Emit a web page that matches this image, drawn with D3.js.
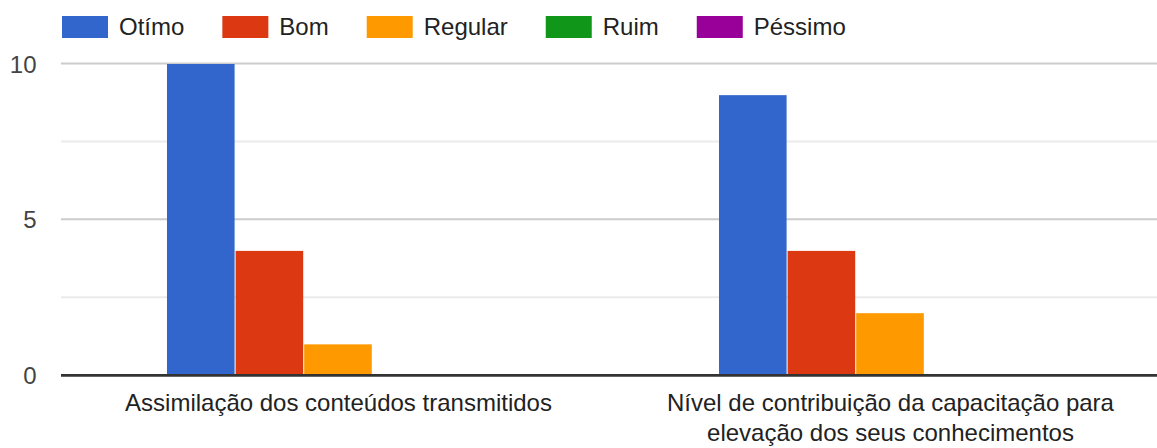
<!DOCTYPE html>
<html>
<head>
<meta charset="utf-8">
<script src="https://cdn.jsdelivr.net/npm/d3@7"></script>
<style>
  html, body { margin: 0; padding: 0; background: #fff; }
  svg { display: block; font-family: Arial, "Liberation Sans", sans-serif; }
</style>
</head>
<body>
<svg id="chart" width="1157" height="448"></svg>
<script>
// ---- Data ----
const categories = [
  "Assimilação dos conteúdos transmitidos",
  "Nível de contribuição da capacitação para elevação dos seus conhecimentos"
];
const seriesNames = ["Otímo", "Bom", "Regular", "Ruim", "Péssimo"];
const seriesColors = ["#3366cc", "#dc3912", "#ff9900", "#109618", "#990099"];
const otimoValues = [10, 9];
const bomValues = [4, 4];
const regularValues = [1, 2];
const ruimValues = [0, 0];
const pessimoValues = [0, 0];
const yTickLabels = [0, 5, 10];
const yMinorTicks = [2.5, 7.5];

const seriesValues = [otimoValues, bomValues, regularValues, ruimValues, pessimoValues];

// ---- Layout ----
const svg = d3.select("#chart");
const plotLeft = 61, plotRight = 1157, bandRight = 1168;

const x0 = d3.scaleBand().domain(categories).range([plotLeft, bandRight])
  .paddingInner(0.3786).paddingOuter(0.192);
const x1 = d3.scaleBand().domain(seriesNames).range([0, x0.bandwidth()]).padding(0);
const y = d3.scaleLinear().domain([0, 10]).range([375, 63.5]);

// gridlines
svg.append("g").selectAll("line.minor").data(yMinorTicks).join("line")
  .attr("x1", plotLeft).attr("x2", plotRight)
  .attr("y1", d => y(d)).attr("y2", d => y(d))
  .attr("stroke", "#ebebeb").attr("stroke-width", 2);
svg.append("g").selectAll("line.major").data(yTickLabels.filter(d => d !== 0)).join("line")
  .attr("x1", plotLeft).attr("x2", plotRight)
  .attr("y1", d => y(d)).attr("y2", d => y(d))
  .attr("stroke", "#cccccc").attr("stroke-width", 2);

// y axis labels
const yAxis = d3.axisLeft(y).tickValues(yTickLabels).tickSize(0).tickPadding(0);
const yg = svg.append("g").attr("transform", "translate(36.5,0)").call(yAxis);
yg.select(".domain").remove();
yg.selectAll("text").attr("font-size", 24).attr("fill", "#444")
  .attr("font-family", "Arial, 'Liberation Sans', sans-serif").attr("dy", "0.36em");

// bars
const rows = categories.map((c, i) => ({ cat: c, vals: seriesNames.map((s, j) => ({ s, j, v: seriesValues[j][i] })) }));
const groups = svg.append("g").selectAll("g").data(rows).join("g")
  .attr("transform", d => `translate(${x0(d.cat)},0)`);
groups.selectAll("rect").data(d => d.vals.filter(e => e.v > 0)).join("rect")
  .attr("x", d => x1(d.s))
  .attr("width", x1.bandwidth() - 1)
  .attr("y", d => y(d.v) + 0.5)
  .attr("height", d => y(0) - y(d.v) - 0.5)
  .attr("fill", d => seriesColors[d.j]);

// baseline
svg.append("line").attr("x1", plotLeft).attr("x2", plotRight)
  .attr("y1", y(0) + 0.4).attr("y2", y(0) + 0.4)
  .attr("stroke", "#333").attr("stroke-width", 2.8);

// x labels (wrapped)
const maxW = 480;
const xl = svg.append("g");
categories.forEach(c => {
  const cx = x0(c) + x0.bandwidth() / 2;
  const t = xl.append("text").attr("x", cx).attr("y", 411)
    .attr("text-anchor", "middle").attr("font-size", 24).attr("fill", "#222");
  const words = c.split(" ");
  let line = [];
  let ts = t.append("tspan").attr("x", cx).attr("dy", 0);
  words.forEach(w => {
    line.push(w);
    ts.text(line.join(" "));
    if (ts.node().getComputedTextLength() > maxW && line.length > 1) {
      line.pop();
      ts.text(line.join(" "));
      line = [w];
      ts = t.append("tspan").attr("x", cx).attr("dy", 30).text(w);
    }
  });
});

// legend
const lg = svg.append("g");
let lx = 62;
seriesNames.forEach((s, j) => {
  lg.append("rect").attr("x", lx).attr("y", 16).attr("width", 46).attr("height", 22)
    .attr("fill", seriesColors[j]);
  const t = lg.append("text").attr("x", lx + 57).attr("y", 35)
    .attr("font-size", 24).attr("fill", "#222").text(s);
  lx += 57 + t.node().getComputedTextLength() + 38;
});
</script>
</body>
</html>
